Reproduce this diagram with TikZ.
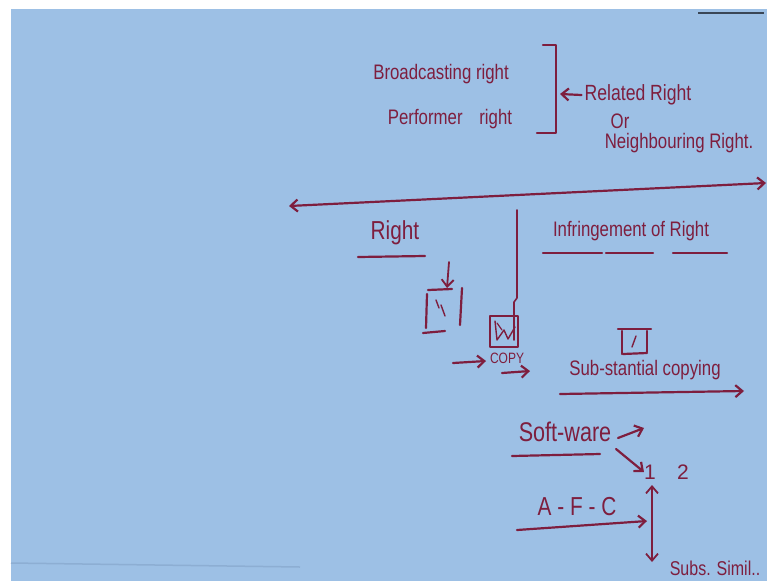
\documentclass[tikz,border=0pt]{standalone}
\usepackage{fontspec}
\setmainfont{Liberation Sans}
\usetikzlibrary{arrows.meta}
\definecolor{board}{HTML}{9DC0E5}
\definecolor{inkc}{HTML}{7E1E3E}
\definecolor{edgec}{HTML}{3A4656}
\definecolor{faint}{HTML}{8DAED3}
\newcommand{\hw}[1]{\scalebox{0.8}[1]{#1}}
\begin{document}
\begin{tikzpicture}[x=1pt,y=-1pt,
  ink/.style={draw=inkc, line width=2.2pt, line cap=round, line join=round},
  arr/.style={ink, -{Straight Barb[length=7pt,width=12pt]}},
  darr/.style={ink, {Straight Barb[length=7pt,width=12pt]}-{Straight Barb[length=7pt,width=12pt]}},
  hand/.style={text=inkc, font=\fontsize{21}{23}\selectfont, inner sep=0pt, anchor=center},
  small/.style={text=inkc, font=\fontsize{15}{17}\selectfont, inner sep=0pt, anchor=center}]
\fill[white] (0,0) rectangle (767,581);
\fill[board] (11,9) rectangle (767,581);
\useasboundingbox (0,0) rectangle (767,581);
% board edges
\coordinate (e1) at (698,13); \coordinate (e2) at (764,13);
\draw[edgec, line width=2pt] (e1) -- (e2);
\coordinate (f1) at (11,563); \coordinate (f2) at (300,567);
\draw[faint, line width=1.5pt] (f1) -- (f2);

% top block
\node[hand] (bc) at (441,74) {\hw{Broadcasting right}};
\node[hand] (pr) at (450,119) {\hw{Performer\quad right}};
\coordinate (bt1) at (543,45); \coordinate (bt2) at (556,45);
\coordinate (bb2) at (556,133); \coordinate (bb1) at (537,133);
\draw[ink] (bt1) -- (bt2) -- (bb2) -- (bb1);
\node[hand, font=\fontsize{22}{24}\selectfont] (rr) at (638,95) {\hw{Related Right}};
\coordinate (ra) at (560,94);
\draw[arr] ([xshift=-3pt]rr.west) -- (ra);
\node[hand] (or) at (620,121) {\hw{Or}};
\node[hand] (nr) at (679,143) {\hw{Neighbouring Right.}};

% main double arrow
\coordinate (la) at (289,206); \coordinate (rb) at (766,183);
\draw[darr] (la) -- (rb);

% divider
\coordinate (d1) at (517,210); \coordinate (d2) at (517,298);
\coordinate (d3) at (514,302); \coordinate (d4) at (514,340);
\draw[ink, line width=1.6pt] (d1) -- (d2) -- (d3) -- (d4);

% headings
\node[hand, font=\fontsize{26}{28}\selectfont] (right) at (395,233) {\hw{Right}};
\coordinate (u1) at (358,257); \coordinate (u2) at (425,256);
\draw[ink] (u1) -- (u2);
\node[hand] (inf) at (631,231) {\hw{Infringement of Right}};
\coordinate (i1) at (543,253); \coordinate (i2) at (602,253);
\coordinate (i3) at (606,253); \coordinate (i4) at (653,253);
\coordinate (i5) at (673,253); \coordinate (i6) at (727,253);
\draw[ink] (i1) -- (i2); \draw[ink] (i3) -- (i4); \draw[ink] (i5) -- (i6);

% left box
\coordinate (la1) at (449,262); \coordinate (la2) at (447,288);
\draw[arr, line width=1.8pt] (la1) -- (la2);
\coordinate (lb1) at (428,290); \coordinate (lb2) at (452,289);
\draw[ink] (lb1) -- (lb2);
\coordinate (lb3) at (427,294); \coordinate (lb4) at (426,328);
\draw[ink] (lb3) -- (lb4);
\coordinate (lb5) at (462,288); \coordinate (lb6) at (460,325);
\draw[ink] (lb5) -- (lb6);
\coordinate (lb7) at (423,333); \coordinate (lb8) at (445,331);
\draw[ink] (lb7) -- (lb8);
\coordinate (h1) at (436,300); \coordinate (h2) at (439,308);
\coordinate (h3) at (441,305); \coordinate (h4) at (445,316);
\draw[ink, line width=1.4pt] (h1) -- (h2); \draw[ink, line width=1.4pt] (h3) -- (h4);

% copy box
\coordinate (cb1) at (490,316); \coordinate (cb2) at (518,347);
\draw[ink] (cb1) rectangle (cb2);
\coordinate (w1) at (495,321); \coordinate (w2) at (497,340);
\coordinate (w3) at (504,330); \coordinate (w4) at (508,339);
\coordinate (w5) at (515,327);
\draw[ink, line width=1.4pt] (w1) -- (w2) -- (w3) -- (w4) -- (w5);
\coordinate (w6) at (497,323); \coordinate (w7) at (502,330);
\draw[ink, line width=1.2pt] (w6) -- (w7);
\node[small] (copy) at (507,358) {\hw{COPY}};
\coordinate (ca1) at (453,363); \coordinate (ca2) at (486,361);
\draw[arr] (ca1) -- (ca2);
\coordinate (cc1) at (502,373); \coordinate (cc2) at (530,371);
\draw[arr] (cc1) -- (cc2);

% small right box
\coordinate (sb1) at (618,329); \coordinate (sb2) at (651,329);
\draw[ink] (sb1) -- (sb2);
\coordinate (sb3) at (622,331); \coordinate (sb4) at (622,354);
\draw[ink] (sb3) -- (sb4);
\coordinate (sb5) at (647,331); \coordinate (sb6) at (647,352);
\draw[ink] (sb5) -- (sb6);
\coordinate (sb7) at (623,354); \coordinate (sb8) at (647,353);
\draw[ink] (sb7) -- (sb8);
\coordinate (s1) at (636,336); \coordinate (s2) at (632,347);
\draw[ink, line width=1.4pt] (s1) -- (s2);

\node[hand] (sub) at (645,370) {\hw{Sub-stantial copying}};
\coordinate (sa1) at (560,394); \coordinate (sa2) at (744,391);
\draw[arr] (sa1) -- (sa2);

% software
\node[hand, font=\fontsize{27}{29}\selectfont] (soft) at (565,432) {\hw{Soft-ware}};
\coordinate (su1) at (512,456); \coordinate (su2) at (600,454);
\draw[ink] (su1) -- (su2);
\coordinate (sw1) at (618,438); \coordinate (sw2) at (644,428);
\draw[arr] (sw1) -- (sw2);
\node[hand] (one) at (650,472) {1};
\node[hand] (two) at (683,472) {2};
\coordinate (sd1) at (616,449);
\draw[arr] (sd1) -- (one.west);

% AFC
\node[hand, font=\fontsize{26}{28}\selectfont] (afc) at (577,507) {\hw{A - F - C}};
\coordinate (aa1) at (517,530); \coordinate (aa2) at (647,521);
\draw[arr] (aa1) -- (aa2);
\coordinate (v1) at (652,485); \coordinate (v2) at (652,562);
\draw[darr, line width=1.8pt] (v1) -- (v2);
\node[hand, font=\fontsize{20}{22}\selectfont] (subs) at (715,568) {\hw{Subs. Simil..}};
\end{tikzpicture}
\end{document}
